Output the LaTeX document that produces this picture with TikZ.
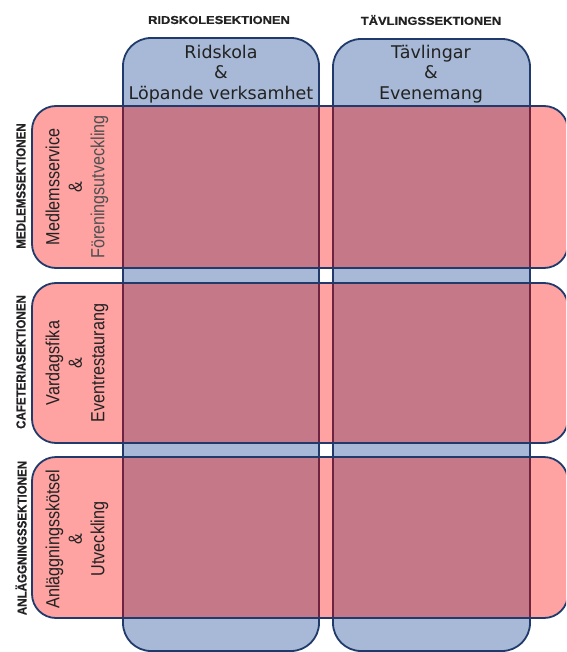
\documentclass[tikz,border=0pt]{standalone}
\usepackage{fontspec}
\setmainfont{Liberation Sans}
\newfontfamily\colfont{DejaVu Sans}
\newfontfamily\rowfont[FakeStretch=0.85]{Liberation Sans}
\newfontfamily\toplabfont[FakeStretch=1.12,FakeBold=0.6]{Liberation Sans Bold}
\newfontfamily\sidelabfont[FakeStretch=0.89,FakeBold=0.6]{Liberation Sans Bold}
\definecolor{navy}{HTML}{1F3A6B}
\definecolor{colblue}{HTML}{A7B9D6}
\definecolor{rowpink}{HTML}{FEA2A2}
\definecolor{mauve}{HTML}{C47888}
\definecolor{maroon}{HTML}{6E2440}
\definecolor{txt}{HTML}{222222}
\definecolor{lighttxt}{HTML}{505050}
\tikzset{
  colbox/.style={fill=colblue, draw=navy, line width=1.8pt, rounded corners=28pt},
  rowbox/.style={fill=rowpink, rounded corners=24pt},
  rowline/.style={draw=navy, line width=1.8pt, rounded corners=24pt},
  overlap/.style={fill=mauve},
  colinner/.style={draw=maroon, line width=1.8pt},
  coltext/.style={align=center, text=txt, inner sep=0pt, font=\colfont\fontsize{17.5}{20.5}\selectfont},
  rowtext/.style={align=center, text=txt, inner sep=0pt, rotate=90, font=\rowfont\fontsize{19}{22.5}\selectfont},
  toplab/.style={text=txt, inner sep=0pt, font=\toplabfont\fontsize{11.5}{13}\selectfont},
  sidelab/.style={text=txt, inner sep=0pt, rotate=90, font=\sidelabfont\fontsize{13}{15}\selectfont}
}
\begin{document}
\begin{tikzpicture}[x=1pt,y=-1pt]
\useasboundingbox (0,0) rectangle (566,652);
\clip (0,0) rectangle (566,652);
% columns
\draw[colbox] (123,38) rectangle (319,651);
\draw[colbox] (333,39) rectangle (530,651);
% rows (fill)
\fill[rowbox] (32,106) rectangle (568,268);
\fill[rowbox] (32,283) rectangle (568,443);
\fill[rowbox] (32,457) rectangle (568,618);
% overlaps
\foreach \ya/\yb in {106/268, 283/443, 457/618}{
  \fill[overlap] (123,\ya) rectangle (319,\yb);
  \fill[overlap] (333,\ya) rectangle (530,\yb);
  \draw[colinner] (123,\ya) -- (123,\yb);
  \draw[colinner] (319,\ya) -- (319,\yb);
  \draw[colinner] (333,\ya) -- (333,\yb);
  \draw[colinner] (530,\ya) -- (530,\yb);
}
% row borders
\draw[rowline] (32,106) rectangle (568,268);
\draw[rowline] (32,283) rectangle (568,443);
\draw[rowline] (32,457) rectangle (568,618);
% column texts
\node[coltext] (c1) at (221,74) {Ridskola\\\&\\Löpande verksamhet};
\node[coltext] (c2) at (431,74) {Tävlingar\\\&\\Evenemang};
% top labels
\node[toplab] (t1) at (219,20) {RIDSKOLESEKTIONEN};
\node[toplab] (t2) at (431,20) {TÄVLINGSSEKTIONEN};
% row texts
\node[rowtext] (r1) at (77,187) {Medlemsservice\\\&\\{\color{lighttxt}Föreningsutveckling}};
\node[rowtext] (r2) at (77,363) {Vardagsfika\\\&\\Eventrestaurang};
\node[rowtext] (r3) at (77,539) {Anläggningsskötsel\\\&\\Utveckling};
% side labels
\node[sidelab] (s1) at (21,186) {MEDLEMSSEKTIONEN};
\node[sidelab] (s2) at (21,362) {CAFETERIASEKTIONEN};
\node[sidelab] (s3) at (21,538) {ANLÄGGNINGSSEKTIONEN};
\end{tikzpicture}
\end{document}
